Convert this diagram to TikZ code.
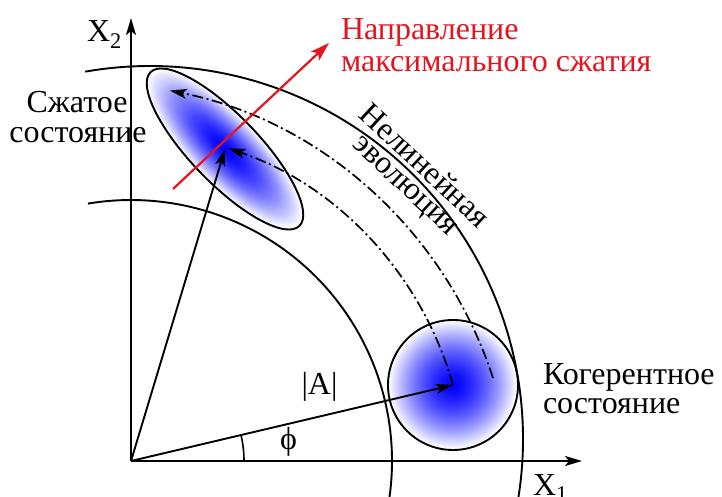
\documentclass[tikz,border=0pt]{standalone}
\usepackage{fontspec}
\setmainfont{Liberation Serif}
\usetikzlibrary{arrows.meta}
\definecolor{redc}{RGB}{228,20,30}
\begin{document}
\begin{tikzpicture}[x=1pt,y=1pt,
  ln/.style={line width=1.9pt},
  arr/.style={-{Stealth[length=17pt,width=10pt,inset=4pt]}},
  dd/.style={line width=1.7pt, dash pattern=on 11pt off 3.5pt on 2pt off 3.5pt},
  lbl/.style={font=\fontsize{32}{32}\selectfont, inner sep=0pt, outer sep=0pt}]
\useasboundingbox (0,0) rectangle (722,496);
\clip (0,0) rectangle (722,496);
\coordinate (O) at (131,35);
\coordinate (C) at (453,111);
\coordinate (S) at (225,347);
\coordinate (Co) at (150,57);
% gradients
\foreach \k in {60,59,...,1}{
  \pgfmathsetmacro\s{\k/60}
  \pgfmathtruncatemacro\c{100*(1-\s^1.5)}
  \fill[blue!\c!white] (C) circle ({65*\s});
  \fill[blue!\c!white, rotate around={-46:(S)}] (S) ellipse ({107*\s} and {34*\s});
}
% arcs
\draw[ln] (O) ++(-9:261) arc[start angle=-9, end angle=99.5, radius=261];
\draw[ln] (Co) ++(-10:373) arc[start angle=-10, end angle=100, radius=373];
% dash-dot evolution paths
\draw[dd, arr] (C) arc[start angle=15.8, end angle=71.2, radius=351];
\coordinate (D) at (493,118);
\draw[dd, arr] (D) arc[start angle=18, end angle=78.7, radius=428];
% states
\draw[ln] (C) circle (65);
\draw[ln, rotate around={-46:(S)}] (S) ellipse (107 and 34);
% axes
\coordinate (Xe) at (582,35);
\coordinate (Ye) at (131,478);
\draw[ln, arr] (O) -- (Xe);
\draw[ln, arr] (O) -- (Ye);
% vectors
\draw[ln, arr] (O) -- (S);
\draw[ln, arr] (O) -- (C);
\draw[line width=1.6pt] (O) ++(0:113) arc[start angle=0, end angle=13.3, radius=113];
% red direction
\coordinate (R1) at (173,307);
\coordinate (R2) at (329,453);
\draw[redc, line width=2.2pt, -{Stealth[length=19pt,width=12pt,inset=4pt]}] (R1) -- (R2);
% labels
\node[lbl, anchor=base west] (x2) at (87,454) {X\textsubscript{2}};
\node[lbl, anchor=base west] (x1) at (533,1) {X\textsubscript{1}};
\node[lbl] (amp) at (319.5,109) {|A|};
\node[lbl] (phi) at (288.5,54) {\symbol{"03D5}};
\node[lbl, anchor=base west, text=redc] (r1) at (341,456) {Направление};
\node[lbl, anchor=base west, text=redc] (r2) at (341,424) {максимального сжатия};
\node[lbl, anchor=base] (s1) at (77,383) {Сжатое};
\node[lbl, anchor=base] (s2) at (78,353) {состояние};
\node[lbl, anchor=base west] (c1) at (543,112) {Когерентное};
\node[lbl, anchor=base west] (c2) at (543,83) {состояние};
\node[lbl, rotate=-43] (n1) at (425.5,331) {Нелинейная};
\node[lbl, rotate=-43] (n2) at (403,308) {эволюция};
\end{tikzpicture}
\end{document}
